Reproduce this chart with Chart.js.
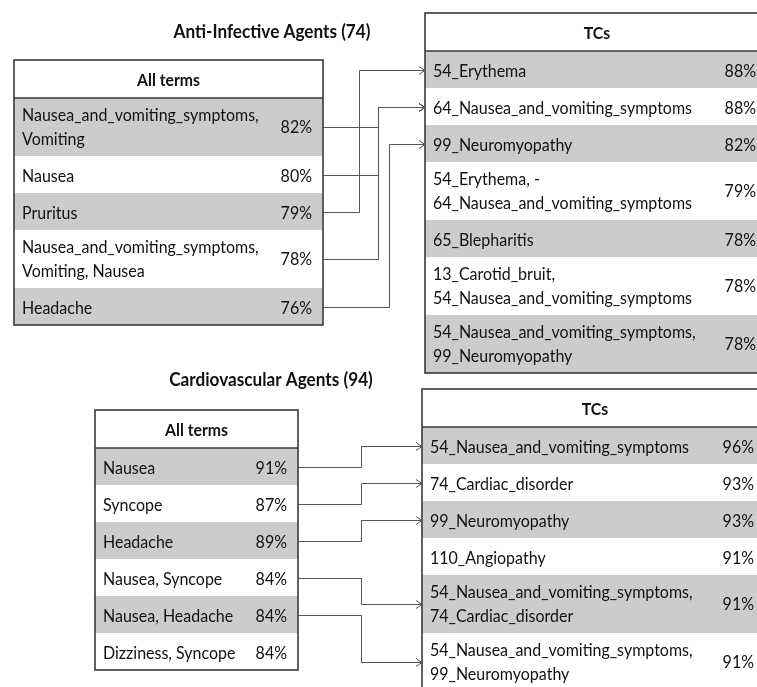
<!DOCTYPE html>
<html><head><meta charset="utf-8">
<script src="https://cdn.jsdelivr.net/npm/chart.js@4"></script>
<style>html,body{margin:0;padding:0;background:#fff;}canvas{display:block;}</style>
</head><body>
<canvas id="c" width="757" height="687"></canvas>
<script>
// ---------- DATA ----------
const panelTitles = ["Anti-Infective Agents (74)", "Cardiovascular Agents (94)"];
const headers = ["All terms", "TCs"];
const aiTerms = [["Nausea_and_vomiting_symptoms,", "Vomiting"], ["Nausea"], ["Pruritus"], ["Nausea_and_vomiting_symptoms,", "Vomiting, Nausea"], ["Headache"]];
const aiTermValues = [82, 80, 79, 78, 76];
const aiTCs = [["54_Erythema"], ["64_Nausea_and_vomiting_symptoms"], ["99_Neuromyopathy"], ["54_Erythema, -", "64_Nausea_and_vomiting_symptoms"], ["65_Blepharitis"], ["13_Carotid_bruit,", "54_Nausea_and_vomiting_symptoms"], ["54_Nausea_and_vomiting_symptoms,", "99_Neuromyopathy"]];
const aiTCValues = [88, 88, 82, 79, 78, 78, 78];
const aiLinks = [[0, 1], [1, 1], [2, 0], [3, 1], [4, 2]];
const cvTerms = [["Nausea"], ["Syncope"], ["Headache"], ["Nausea, Syncope"], ["Nausea, Headache"], ["Dizziness, Syncope"]];
const cvTermValues = [91, 87, 89, 84, 84, 84];
const cvTCs = [["54_Nausea_and_vomiting_symptoms"], ["74_Cardiac_disorder"], ["99_Neuromyopathy"], ["110_Angiopathy"], ["54_Nausea_and_vomiting_symptoms,", "74_Cardiac_disorder"], ["54_Nausea_and_vomiting_symptoms,", "99_Neuromyopathy"]];
const cvTCValues = [96, 93, 93, 91, 91, 91];
const cvLinks = [[0, 0], [1, 1], [2, 2], [3, 4], [4, 5]];

// ---------- LAYOUT (positions / styles) ----------
const W = 757, H = 687;
const FAMILY = "Lato, 'Liberation Sans', sans-serif";
const ROW1 = 37, ROW2 = 58, HEAD = 38, LINEGAP = 24.6;
const GRAY = '#cccccc', BORDER = '#3a3a3a', LINK = '#555555', TEXT = '#111111';
const tableLayout = {
  aiL: {x0: 14, x1: 323, top: 60, pad: 8, pctRight: 312},
  aiR: {x0: 425, x1: 769, top: 13, pad: 8, pctRight: 756},
  cvL: {x0: 95, x1: 298, top: 410, pad: 8, pctRight: 287},
  cvR: {x0: 422, x1: 768, top: 389, pad: 8, pctRight: 754}
};
const titlePos = [{x: 272, y: 30.5}, {x: 271, y: 379}];
const aiVerticalX = [359, 378, 389];
const cvVerticalX = 361;

const tables = [
  {lay: tableLayout.aiL, head: headers[0], rows: aiTerms, vals: aiTermValues},
  {lay: tableLayout.aiR, head: headers[1], rows: aiTCs, vals: aiTCValues},
  {lay: tableLayout.cvL, head: headers[0], rows: cvTerms, vals: cvTermValues},
  {lay: tableLayout.cvR, head: headers[1], rows: cvTCs, vals: cvTCValues}
];
tables.forEach(t => {
  let y = t.lay.top + HEAD;
  t.rowY = [];
  t.rows.forEach(r => { const h = r.length > 1 ? ROW2 : ROW1; t.rowY.push({y0: y, y1: y + h, c: y + h / 2}); y += h; });
  t.bottom = y;
});

// fonts: size chosen for cap height, horizontal scale chosen for reference widths
const mctx = document.createElement('canvas').getContext('2d');
function makeFont(weight, capH, sample, targetW) {
  mctx.font = weight + ' 100px ' + FAMILY;
  const cap100 = mctx.measureText('H').actualBoundingBoxAscent || 72;
  const size = 100 * capH / cap100;
  const font = weight + ' ' + size.toFixed(2) + 'px ' + FAMILY;
  mctx.font = font;
  const sx = targetW / mctx.measureText(sample).width;
  return {font, sx, capH};
}
const BODYF = makeFont('normal', 13.2, '54_Nausea_and_vomiting_symptoms', 259);
const TITLEF = makeFont('bold', 14.2, panelTitles[0], 197);
const HEADF = makeFont('bold', 12.8, 'All terms', 63);

// connector datasets computed from table layout
function links(left, right, pairs, vx) {
  const ds = [];
  pairs.forEach(([a, b]) => {
    const yl = Math.round(left.rowY[a].c) + 0.5, yr = Math.round(right.rowY[b].c) + 0.5;
    const x = (Array.isArray(vx) ? vx[b] : vx) + 0.5;
    const tip = right.lay.x0;
    ds.push({data: [{x: left.lay.x1, y: yl}, {x: x, y: yl}, {x: x, y: yr}, {x: tip, y: yr}]});
    ds.push({data: [{x: tip - 6, y: yr - 4}, {x: tip, y: yr}, {x: tip - 6, y: yr + 4}]});
  });
  return ds;
}
const datasets = [...links(tables[0], tables[1], aiLinks, aiVerticalX), ...links(tables[2], tables[3], cvLinks, cvVerticalX)]
  .map(d => Object.assign(d, {showLine: true, borderColor: LINK, borderWidth: 1, pointRadius: 0, tension: 0, fill: false}));

function drawText(ctx, text, x, capCenterY, align, F) {
  ctx.save();
  ctx.font = F.font;
  ctx.textBaseline = 'alphabetic';
  ctx.textAlign = align;
  ctx.translate(x, capCenterY + F.capH / 2);
  ctx.scale(F.sx, 1);
  ctx.fillText(text, 0, 0);
  ctx.restore();
}

const tablePlugin = {
  id: 'tables',
  beforeDatasetsDraw(chart) {
    const ctx = chart.ctx, xs = chart.scales.x, ys = chart.scales.y;
    const px = v => xs.getPixelForValue(v), py = v => ys.getPixelForValue(v);
    ctx.save();
    ctx.fillStyle = TEXT;
    panelTitles.forEach((t, i) => drawText(ctx, t, px(titlePos[i].x), py(titlePos[i].y), 'center', TITLEF));
    tables.forEach(t => {
      const L = t.lay;
      ctx.fillStyle = '#fff';
      ctx.fillRect(px(L.x0), py(L.top), px(L.x1) - px(L.x0), py(t.bottom) - py(L.top));
      t.rowY.forEach((r, i) => {
        if (i % 2 === 0) { ctx.fillStyle = GRAY; ctx.fillRect(px(L.x0), py(r.y0), px(L.x1) - px(L.x0), py(r.y1) - py(r.y0)); }
      });
      ctx.fillStyle = TEXT;
      drawText(ctx, t.head, px((L.x0 + L.x1) / 2), py(L.top + HEAD / 2 + 1), 'center', HEADF);
      t.rowY.forEach((r, i) => {
        const lines = t.rows[i];
        const cc = lines.length > 1 ? r.c - 0.5 : r.c + 0.5;
        lines.forEach((ln, k) => {
          const yy = cc + (k - (lines.length - 1) / 2) * LINEGAP;
          drawText(ctx, ln, px(L.x0 + L.pad), py(yy), 'left', BODYF);
        });
        drawText(ctx, t.vals[i] + '%', px(L.pctRight), py(cc), 'right', BODYF);
      });
      ctx.strokeStyle = BORDER;
      ctx.lineWidth = 1.6;
      ctx.strokeRect(px(L.x0), py(L.top), px(L.x1) - px(L.x0), py(t.bottom) - py(L.top));
      ctx.beginPath();
      ctx.moveTo(px(L.x0), py(L.top + HEAD));
      ctx.lineTo(px(L.x1), py(L.top + HEAD));
      ctx.stroke();
    });
    ctx.restore();
  }
};

new Chart(document.getElementById('c'), {
  type: 'scatter',
  data: {datasets},
  options: {
    responsive: false, animation: false, events: [], devicePixelRatio: 1,
    layout: {padding: 0},
    plugins: {legend: {display: false}, tooltip: {enabled: false}, title: {display: false}},
    scales: {
      x: {type: 'linear', min: 0, max: W, display: false},
      y: {type: 'linear', min: 0, max: H, reverse: true, display: false}
    }
  },
  plugins: [tablePlugin]
});
</script>
</body></html>
